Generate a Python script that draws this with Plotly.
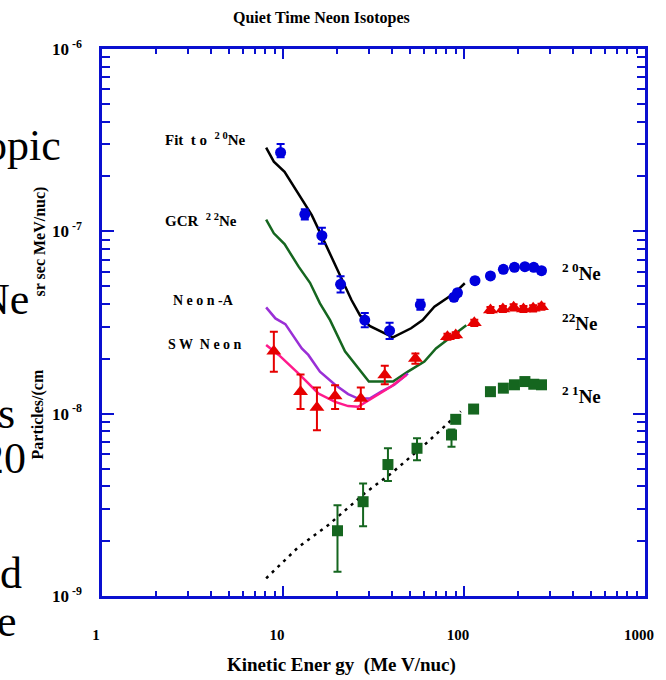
import plotly.graph_objects as go

# ---- data -----------------------------------------------------------------
# Model curves (kinetic energy in MeV/nuc, intensity)
fit20_E = [8.07, 8.9, 10.2, 12.7, 14.4, 17.1, 20.6, 23.9, 26.6, 30.1, 40.5, 51, 59.1, 68.6, 88.3, 101]
fit20_y = [2.88e-7, 2.41e-7, 2.12e-7, 1.49e-7, 1.23e-7, 8.59e-8, 5.76e-8, 4.2e-8, 3.47e-8,
           3.03e-8, 2.62e-8, 2.94e-8, 3.26e-8, 3.86e-8, 4.57e-8, 5.19e-8]

gcr22_E = [8.07, 8.9, 10.2, 12.2, 14.1, 16.0, 18.2, 22.0, 29.8, 40.5, 49, 60.4, 70, 81, 96, 103]
gcr22_y = [1.16e-7, 9.75e-8, 8.51e-8, 6.4e-8, 5.22e-8, 4.03e-8, 3.26e-8, 2.2e-8, 1.5e-8,
           1.5e-8, 1.7e-8, 1.93e-8, 2.28e-8, 2.54e-8, 2.87e-8, 3.05e-8]

neonA_E = [8.07, 9.08, 10.3, 12.7, 13.8, 16, 19.4, 22.9, 26, 30.1, 34.9, 41.2, 49]
neonA_y = [3.83e-8, 3.33e-8, 3.1e-8, 2.28e-8, 2.1e-8, 1.70e-8, 1.44e-8, 1.28e-8, 1.21e-8,
           1.21e-8, 1.32e-8, 1.44e-8, 1.66e-8]

sw_E = [8.07, 9.47, 12.2, 15.7, 19.4, 22.9, 26, 30.8, 39.6, 48]
sw_y = [2.38e-8, 2.1e-8, 1.66e-8, 1.29e-8, 1.16e-8, 1.10e-8, 1.09e-8, 1.21e-8, 1.41e-8, 1.63e-8]

fit21_E = [8.07, 12.2, 17.8, 28.3, 39.6, 60.4, 96]
fit21_y = [1.25e-9, 1.86e-9, 2.45e-9, 3.66e-9, 4.7e-9, 6.73e-9, 1.03e-8]

# Measured spectra
ne20_E = [9.7, 13.2, 16.4, 20.8, 28.3, 38.8, 57.4, 88, 92, 115, 140, 165, 190, 217, 243, 268]
ne20_y = [2.71e-7, 1.24e-7, 9.46e-8, 5.12e-8, 3.26e-8, 2.85e-8, 3.96e-8, 4.35e-8, 4.6e-8,
          5.36e-8, 5.69e-8, 6.19e-8, 6.35e-8, 6.40e-8, 6.35e-8, 6.08e-8]
ne20_errp = [0.30e-7, 0.08e-7, 1.0e-8, 0.55e-8, 0.30e-8, 0.30e-8, 0.26e-8, 0.17e-8, 0.18e-8,
             0.2e-8, 0.2e-8, 0.22e-8, 0.22e-8, 0.22e-8, 0.22e-8, 0.22e-8]
ne20_errm = [0.16e-7, 0.08e-7, 0.9e-8, 0.50e-8, 0.28e-8, 0.28e-8, 0.24e-8, 0.17e-8, 0.18e-8,
             0.2e-8, 0.2e-8, 0.22e-8, 0.22e-8, 0.22e-8, 0.22e-8, 0.22e-8]

ne22_E = [8.9, 12.5, 15.4, 19.4, 26.9, 36.5, 53.9, 81, 90, 114, 140, 164, 188, 213, 241, 268]
ne22_y = [2.2e-8, 1.32e-8, 1.08e-8, 1.25e-8, 1.21e-8, 1.63e-8, 2.01e-8, 2.64e-8, 2.70e-8,
          3.15e-8, 3.70e-8, 3.75e-8, 3.83e-8, 3.75e-8, 3.78e-8, 3.86e-8]
ne22_errp = [0.61e-8, 0.32e-8, 0.31e-8, 0.18e-8, 0.18e-8, 0.20e-8, 0.13e-8, 0.1e-8, 0.1e-8,
             0.12e-8, 0.14e-8, 0.14e-8, 0.15e-8, 0.14e-8, 0.15e-8, 0.15e-8]
ne22_errm = [0.50e-8, 0.26e-8, 0.27e-8, 0.19e-8, 0.15e-8, 0.18e-8, 0.13e-8, 0.1e-8, 0.1e-8,
             0.12e-8, 0.14e-8, 0.14e-8, 0.15e-8, 0.14e-8, 0.15e-8, 0.15e-8]

ne21_E = [20, 27.7, 38, 55, 85.3, 90, 113, 140, 165, 190, 217, 243, 268]
ne21_y = [2.28e-9, 3.29e-9, 5.26e-9, 6.46e-9, 7.64e-9, 9.31e-9, 1.06e-8, 1.32e-8, 1.38e-8,
          1.44e-8, 1.50e-8, 1.45e-8, 1.44e-8]
ne21_errp = [0.87e-9, 0.85e-9, 1.2e-9, 0.86e-9, 0.56e-9, 0.35e-9, 0.4e-9, 0.5e-9, 0.5e-9,
             0.55e-9, 0.55e-9, 0.55e-9, 0.55e-9]
ne21_errm = [0.92e-9, 0.88e-9, 0.99e-9, 0.9e-9, 1.06e-9, 0.35e-9, 0.4e-9, 0.5e-9, 0.5e-9,
             0.55e-9, 0.55e-9, 0.55e-9, 0.55e-9]

x_ticks = [1, 10, 100, 1000]
x_ticktext = ["1", "10", "100", "1000"]
y_ticks = [1e-9, 1e-8, 1e-7, 1e-6]
y_ticktext = ["10<sup> -9</sup>", "10<sup> -8</sup>", "10<sup> -7</sup>", "10<sup> -6</sup>"]

# ---- styling --------------------------------------------------------------
AXIS_BLUE = "#0a10d0"
BLUE = "#0000dd"
RED = "#e60000"
GREEN = "#15661f"
PURPLE = "#9a2fd6"
PINK = "#ff1a8c"
SERIF = "Liberation Serif"

fig = go.Figure()

fig.add_trace(go.Scatter(x=fit20_E, y=fit20_y, mode="lines",
                         line=dict(color="black", width=2.5)))
fig.add_trace(go.Scatter(x=gcr22_E, y=gcr22_y, mode="lines",
                         line=dict(color=GREEN, width=2.5)))
fig.add_trace(go.Scatter(x=neonA_E, y=neonA_y, mode="lines",
                         line=dict(color=PURPLE, width=2.5)))
fig.add_trace(go.Scatter(x=sw_E, y=sw_y, mode="lines",
                         line=dict(color=PINK, width=2.5)))
fig.add_trace(go.Scatter(x=fit21_E, y=fit21_y, mode="lines",
                         line=dict(color="black", width=2.5, dash="3px,5px")))


def err(plus, minus, color):
    return dict(type="data", symmetric=False, array=plus, arrayminus=minus,
                color=color, thickness=2, width=4)


fig.add_trace(go.Scatter(x=ne20_E, y=ne20_y, mode="markers",
                         marker=dict(symbol="circle", size=11, color=BLUE),
                         error_y=err(ne20_errp, ne20_errm, BLUE)))
fig.add_trace(go.Scatter(x=ne22_E, y=ne22_y, mode="markers",
                         marker=dict(symbol="triangle-up", size=13, color=RED),
                         error_y=err(ne22_errp, ne22_errm, RED)))
fig.add_trace(go.Scatter(x=ne21_E, y=ne21_y, mode="markers",
                         marker=dict(symbol="square", size=11, color=GREEN),
                         error_y=err(ne21_errp, ne21_errm, GREEN)))

# ---- layout ---------------------------------------------------------------
L, R, T, B = 102, 17, 49, 84
W, H = 666, 680
PW, PH = W - L - R, H - T - B


def px(x):
    return (x - L) / PW


def py(y):
    return (H - B - y) / PH


axis_common = dict(
    showline=True, linecolor=AXIS_BLUE, linewidth=2.5, mirror="ticks",
    ticks="inside", tickcolor=AXIS_BLUE, tickwidth=2,
    showgrid=False, zeroline=False,
)

minor_x = [m * d for d in (1, 10, 100) for m in range(2, 10)]
minor_y = [m * d for d in (1e-9, 1e-8, 1e-7) for m in range(2, 10)]

fig.update_xaxes(type="log", range=[0, 3], tickvals=x_ticks, ticktext=x_ticktext,
                 ticklen=10, ticklabelstandoff=23, ticklabelshift=-6,
                 tickfont=dict(family=SERIF, size=15, color="black", weight=700),
                 minor=dict(tickvals=minor_x, ticks="inside", ticklen=5,
                            tickcolor=AXIS_BLUE, tickwidth=2, showgrid=False),
                 **axis_common)
fig.update_yaxes(type="log", range=[-9, -6], tickvals=y_ticks, ticktext=y_ticktext,
                 ticklen=12, ticklabelstandoff=14,
                 tickfont=dict(family=SERIF, size=17, color="black", weight=700),
                 minor=dict(tickvals=minor_y, ticks="inside", ticklen=8,
                            tickcolor=AXIS_BLUE, tickwidth=2, showgrid=False),
                 **axis_common)

annotations = []


def label(text, x, y, size, xanchor="left", yanchor="middle", angle=0, weight=700,
          color="black"):
    annotations.append(dict(text=text, x=px(x), y=py(y), xref="paper", yref="paper",
                            xanchor=xanchor, yanchor=yanchor, showarrow=False,
                            textangle=angle,
                            font=dict(family=SERIF, size=size, color=color, weight=weight)))


# curve labels inside the frame
label("Fit  t o  <sup>2 0</sup>Ne", 163, 139, 15)
label("GCR  <sup>2 2</sup>Ne", 163, 220, 15)
label("N e o n -A", 172, 300, 14)
label("S W  N e o n", 166, 345, 14)

# isotope labels on the right
label("<sup>2 0</sup>Ne", 563, 272, 19)
label("<sup>22</sup>Ne", 563, 322, 19)
label("<sup>2 1</sup>Ne", 563, 395, 19)

# axis titles
label("Kinetic Ener gy  (Me V/nuc)", 343, 665, 19, xanchor="center")
label("Particles/(cm", 38, 414, 16, xanchor="center", angle=-90)
label("sr sec MeV/nuc)", 40, 241, 16, xanchor="center", angle=-90)

# slide text behind the chart
for txt, xr, yc in [("Isotopic", 63, 146), ("Ne", 30, 299), ("s", 16, 413),
                    ("20", 27, 458), ("d", 23, 573), ("e", 18, 621)]:
    label(txt, xr, yc, 44, xanchor="right", weight=400)

fig.update_layout(
    width=W, height=H,
    margin=dict(l=L, r=R, t=T, b=B),
    paper_bgcolor="white", plot_bgcolor="white",
    showlegend=False,
    title=dict(text="Quiet Time Neon Isotopes", x=px(323), xref="paper", xanchor="center",
               y=(H - 17) / H, yanchor="middle",
               font=dict(family=SERIF, size=16, color="black", weight=700)),
    annotations=annotations,
)

fig.write_html("out.html")
